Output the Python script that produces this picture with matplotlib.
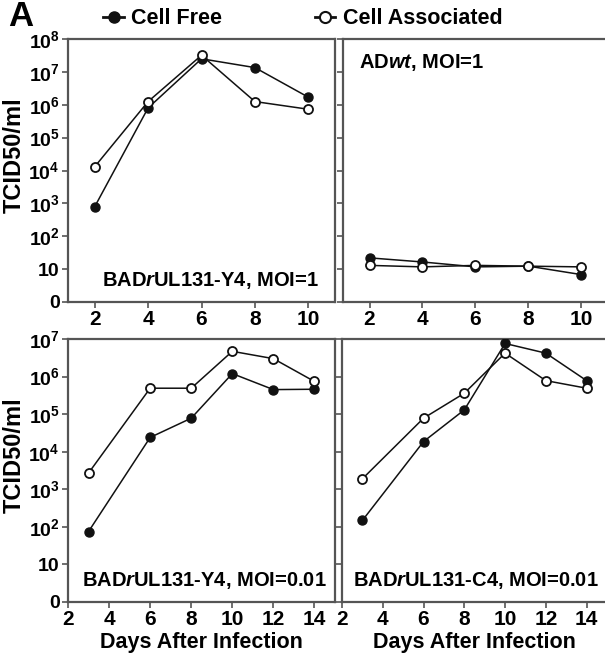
import matplotlib
matplotlib.use("Agg")
import matplotlib.pyplot as plt
from matplotlib.lines import Line2D

plt.rcParams['font.family'] = ['Liberation Sans', 'DejaVu Sans']
plt.rcParams['font.weight'] = 'bold'
plt.rcParams['mathtext.fontset'] = 'custom'
plt.rcParams['mathtext.rm'] = 'Liberation Sans:bold'
plt.rcParams['mathtext.it'] = 'Liberation Sans:italic:bold'
plt.rcParams['mathtext.bf'] = 'Liberation Sans:bold'
plt.rcParams['mathtext.default'] = 'rm'

# top row: days 2..10
days_top = [2, 4, 6, 8, 10]
y4_moi1_free = [790, 8.0e5, 2.5e7, 1.35e7, 1.7e6]
y4_moi1_assoc = [1.3e4, 1.25e6, 3.2e7, 1.25e6, 7.3e5]
adwt_free = [22, 16.5, 11.7, 12.3, 6.8]
adwt_assoc = [13, 11.7, 13, 12.3, 11.7]

# bottom row: days 3..14
days_bot = [3, 6, 8, 10, 12, 14]
y4_low_free = [75, 2.4e4, 7.8e4, 1.2e6, 4.5e5, 4.6e5]
y4_low_assoc = [2.7e3, 4.9e5, 4.9e5, 4.7e6, 3.0e6, 7.4e5]
c4_low_free = [148, 1.86e4, 1.3e5, 7.6e6, 4.2e6, 7.8e5]
c4_low_assoc = [1.9e3, 7.8e4, 3.6e5, 4.2e6, 7.8e5, 4.9e5]

top_yticks = [1, 10, 1e2, 1e3, 1e4, 1e5, 1e6, 1e7, 1e8]
top_ylabels = ['0', '10', '$10^{2}$', '$10^{3}$', '$10^{4}$', '$10^{5}$', '$10^{6}$', '$10^{7}$', '$10^{8}$']
bot_yticks = top_yticks[:-1]
bot_ylabels = top_ylabels[:-1]

W, H = 605, 653
fig = plt.figure(figsize=(W / 100, H / 100), dpi=100)

def px_axes(x0, y0, x1, y1):
    return fig.add_axes([x0 / W, 1 - y1 / H, (x1 - x0) / W, (y1 - y0) / H])

ax_tl = px_axes(68, 39, 335, 302)
ax_tr = px_axes(343, 39, 608, 302)
ax_bl = px_axes(68, 339, 335, 602)
ax_br = px_axes(342, 339, 607, 602)

spine_col = '#555555'

def style(ax, xs, free, assoc, xlim, ylim, yticks, ylabels, xticks):
    ax.plot(xs, free, color='#111111', lw=1.1, marker='o', ms=6.5,
            mfc='#111111', mec='#111111', zorder=3)
    ax.plot(xs, assoc, color='#111111', lw=1.1, marker='o', ms=6.5,
            mfc='white', mec='#111111', mew=1.3, zorder=3)
    ax.set_yscale('log')
    ax.set_xlim(*xlim)
    ax.set_ylim(*ylim)
    ax.set_yticks(yticks)
    ax.minorticks_off()
    if ylabels is None:
        ax.set_yticklabels([])
    else:
        ax.set_yticklabels(ylabels, fontsize=14)
    ax.set_xticks(xticks)
    ax.set_xticklabels([str(t) for t in xticks], fontsize=15)
    ax.tick_params(direction='out', length=4, width=1.2, color=spine_col, pad=2)
    for s in ax.spines.values():
        s.set_color(spine_col)
        s.set_linewidth(1.6)

style(ax_tl, days_top, y4_moi1_free, y4_moi1_assoc, (1, 11), (1, 1e8),
      top_yticks, top_ylabels, [2, 4, 6, 8, 10])
style(ax_tr, days_top, adwt_free, adwt_assoc, (1, 11), (1, 1e8),
      top_yticks, None, [2, 4, 6, 8, 10])
style(ax_bl, days_bot, y4_low_free, y4_low_assoc, (2, 15), (1, 1e7),
      bot_yticks, bot_ylabels, [2, 4, 6, 8, 10, 12, 14])
style(ax_br, days_bot, c4_low_free, c4_low_assoc, (2, 15), (1, 1e7),
      bot_yticks, None, [2, 4, 6, 8, 10, 12, 14])

for ax in (ax_tl, ax_bl):
    ax.set_ylabel('TCID50/ml', fontsize=17, fontweight='bold')
    ax.yaxis.set_label_coords(-0.16, 0.56)
for ax in (ax_bl, ax_br):
    ax.set_xlabel('Days After Infection', fontsize=15.5, fontweight='bold', labelpad=2)

ax_tl.text(0.94, 0.04, r'BAD$\mathit{r}$UL131-Y4, MOI=1', transform=ax_tl.transAxes,
           ha='right', va='bottom', fontsize=14.5, fontweight='bold')
ax_tr.text(0.06, 0.91, r'AD$\mathit{wt}$, MOI=1', transform=ax_tr.transAxes,
           ha='left', va='center', fontsize=14.5, fontweight='bold')
ax_bl.text(0.97, 0.04, r'BAD$\mathit{r}$UL131-Y4, MOI=0.01', transform=ax_bl.transAxes,
           ha='right', va='bottom', fontsize=14.5, fontweight='bold')
ax_br.text(0.04, 0.04, r'BAD$\mathit{r}$UL131-C4, MOI=0.01', transform=ax_br.transAxes,
           ha='left', va='bottom', fontsize=14.5, fontweight='bold')

h_free = Line2D([], [], color='#111111', lw=2, marker='o', ms=8, mfc='#111111', mec='#111111')
h_assoc = Line2D([], [], color='#111111', lw=2, marker='o', ms=8, mfc='white', mec='#111111', mew=1.5)
fig.legend([h_free, h_assoc], ['Cell Free', 'Cell Associated'], ncol=2,
           loc='center', bbox_to_anchor=(303 / W, 1 - 19 / H), frameon=False,
           prop={'size': 15.5, 'weight': 'bold'}, handlelength=0.95, handletextpad=0.35,
           columnspacing=4.3, borderpad=0)

fig.text(8 / W, 1 - 17 / H, 'A', fontsize=25, fontweight='bold', ha='left', va='center')

fig.savefig('out.png', dpi=100)
